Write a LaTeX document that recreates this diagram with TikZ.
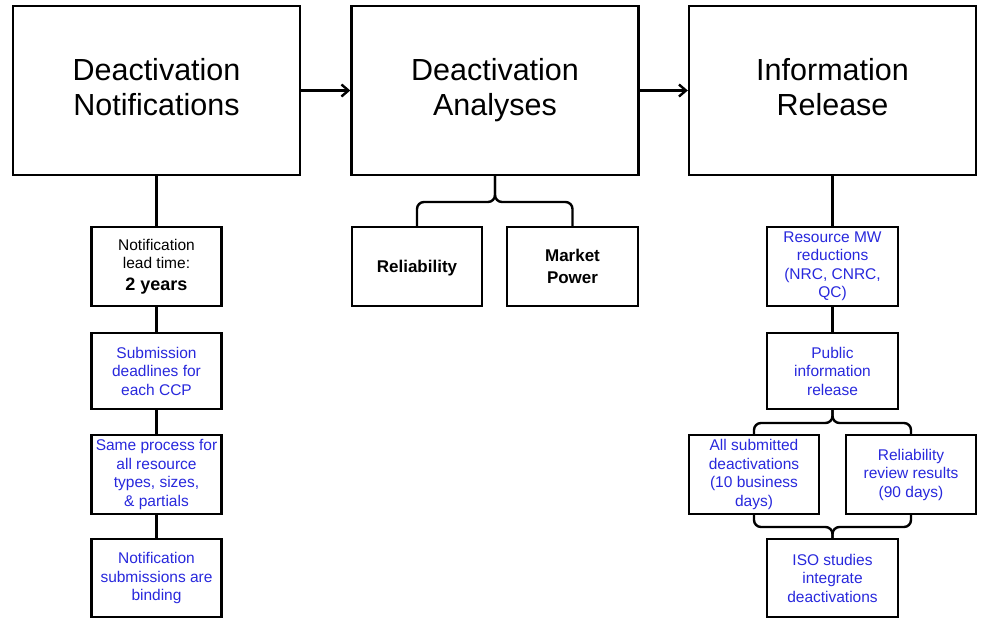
\documentclass[tikz,border=0pt]{standalone}
\usepackage{fontspec}
\setmainfont{Liberation Sans}
\usetikzlibrary{arrows.meta}
\definecolor{azul}{RGB}{40,40,220}
\tikzset{
  >={Straight Barb[length=7pt,width=12pt]},
  caja/.style={draw, line width=2.4pt, align=center, inner sep=0pt},
  grande/.style={caja, minimum width=287pt, minimum height=169pt, font=\fontsize{30.5}{35}\selectfont,
    execute at begin node=\rule{0pt}{38pt}, execute at end node=\rule[-8pt]{0pt}{8pt}},
  chica/.style={caja, minimum width=130pt, minimum height=78pt, font=\fontsize{15.5}{18.5}\selectfont},
  azulada/.style={chica, text=azul},
  negrita/.style={chica, font=\fontsize{17}{21.5}\selectfont\bfseries},
  hilo/.style={line width=2.4pt},
  llave/.style={hilo, rounded corners=7pt},
}
\begin{document}
\begin{tikzpicture}[x=1pt, y=-1pt]
  \useasboundingbox (0,0) rectangle (982,619);
  \node[grande] (notif) at (156.5,90.5) {Deactivation\\Notifications};
  \node[grande] (anal) at (495,90.5) {Deactivation\\Analyses};
  \node[grande] (info) at (832.5,90.5) {Information\\Release};
  \draw[hilo, ->] (notif) -- (anal);
  \draw[hilo, ->] (anal) -- (info);
  % notificaciones
  \node[chica, minimum height=79pt] (plazo) at (156.5,266.5) {Notification\\lead time:\\[3pt]{\fontsize{18}{22}\selectfont\bfseries 2 years}};
  \node[azulada, minimum height=76pt] (entrega) at (156.5,371) {Submission\\deadlines for\\each CCP};
  \node[azulada, minimum height=79pt] (proceso) at (156.5,474.5) {Same process for\\all resource\\types, sizes,\\\& partials};
  \node[azulada] (vinculo) at (156.5,578) {Notification\\submissions are\\binding};
  \draw[hilo] (notif) -- (plazo) -- (entrega) -- (proceso) -- (vinculo);
  % analisis
  \node[negrita, minimum height=79pt] (confiab) at (417,266.5) {\rule{0pt}{15pt}Reliability};
  \node[negrita, minimum height=79pt, minimum width=131pt] (mercado) at (572.5,266.5) {Market\\Power};
  \coordinate (nudo) at (495,202);
  \draw[llave] (anal.south) -- (nudo) -| (confiab.north);
  \draw[llave] (anal.south) -- (nudo) -| (mercado.north);
  % publicacion
  \node[azulada, minimum height=79pt, minimum width=131pt] (recursos) at (832.5,266.5) {Resource MW\\reductions\\(NRC, CNRC,\\QC)};
  \node[azulada, minimum height=76pt, minimum width=131pt] (publica) at (832.5,371) {Public\\information\\release};
  \node[azulada, minimum height=79pt] (todas) at (754,474.5) {All submitted\\deactivations\\(10 business\\days)};
  \node[azulada, minimum height=79pt] (revision) at (911,474.5) {Reliability\\review results\\(90 days)};
  \node[azulada, minimum width=131pt] (estudios) at (832.5,578) {ISO studies\\integrate\\deactivations};
  \draw[hilo] (info) -- (recursos) -- (publica);
  \coordinate (nudo2) at (832.5,423);
  \draw[llave] (publica.south) -- (nudo2) -| (todas.north);
  \draw[llave] (publica.south) -- (nudo2) -| (revision.north);
  \coordinate (nudo3) at (832.5,527);
  \draw[llave] (todas.south) |- (nudo3) -- (estudios.north);
  \draw[llave] (revision.south) |- (nudo3) -- (estudios.north);
\end{tikzpicture}
\end{document}
